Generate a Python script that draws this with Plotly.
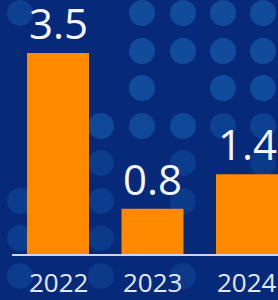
import plotly.graph_objects as go

years = ["2022", "2023", "2024"]
values = [3.5, 0.8, 1.4]
value_labels = ["3.5", "0.8", "1.4"]

W, H = 278, 300
BG = "#07297a"
BAR = "#ff8a00"

fig = go.Figure()
fig.add_trace(go.Bar(
    x=[0, 1, 2], y=values, width=0.656,
    marker=dict(color=BAR, line=dict(width=0)),
    hoverinfo="skip",
))

# decorative dot pattern (grid columns/rows, opacity)
dot_cols = [20, 61, 101, 142, 183, 223, 263]
dot_rows = [13, 51, 88, 126, 163, 201, 238, 276]
dots = [
    (0, 0, 0.6), (3, 0, 0.9), (4, 0, 0.9), (5, 0, 0.9), (6, 0, 0.9),
    (3, 1, 0.9), (4, 1, 0.9), (5, 1, 0.9), (6, 1, 0.9),
    (3, 2, 0.9), (5, 2, 0.9), (6, 2, 0.9),
    (2, 3, 0.8), (3, 3, 0.8), (4, 3, 0.8), (5, 3, 0.6), (6, 3, 0.6),
    (2, 4, 0.5), (4, 4, 0.5), (6, 4, 0.45),
    (0, 5, 0.5), (2, 5, 0.5), (4, 5, 0.45),
    (0, 6, 0.5), (2, 6, 0.45),
    (0, 7, 0.5), (2, 7, 0.45), (4, 7, 0.45),
]
shapes = []
r = 13
for ci, ri, op in dots:
    cx, cy = dot_cols[ci], dot_rows[ri]
    shapes.append(dict(
        type="circle", xref="paper", yref="paper", layer="below",
        x0=(cx - r) / W, x1=(cx + r) / W,
        y0=1 - (cy + r) / H, y1=1 - (cy - r) / H,
        fillcolor="#12509f", opacity=op, line=dict(width=0),
    ))
shapes.append(dict(
    type="line", xref="paper", yref="y", layer="above",
    x0=12 / W, x1=1, y0=0, y1=0,
    line=dict(color="#c9d7f2", width=2),
))

annotations = []
for i, (v, lab) in enumerate(zip(values, value_labels)):
    annotations.append(dict(
        x=i, y=v, xref="x", yref="y", text=lab, showarrow=False,
        yanchor="bottom", yshift=0,
        font=dict(family="Open Sans", size=42, color="#f4f6fb"),
    ))
for i, yr in enumerate(years):
    annotations.append(dict(
        x=i, y=0, xref="x", yref="y", text=yr, showarrow=False,
        yanchor="middle", yshift=-27,
        font=dict(family="Open Sans", size=26, color="#e2e9f7"),
    ))

fig.update_layout(
    width=W, height=H,
    margin=dict(l=0, r=0, t=0, b=0),
    paper_bgcolor=BG, plot_bgcolor="rgba(0,0,0,0)",
    showlegend=False,
    xaxis=dict(range=[-0.6138, 2.328], visible=False, fixedrange=True),
    yaxis=dict(range=[-0.780, 4.419], visible=False, fixedrange=True),
    shapes=shapes, annotations=annotations,
)

fig.write_html(
    "out.html",
    config={"displayModeBar": False},
    post_script="document.body.style.margin='0';document.body.style.overflow='hidden';",
)
